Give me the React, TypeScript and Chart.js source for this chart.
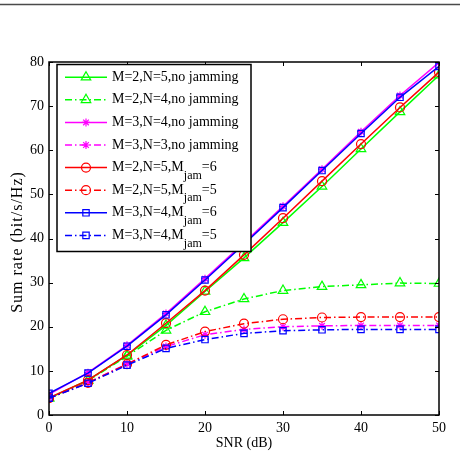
import React, { useEffect, useRef } from "react";
import { Chart, registerables } from "chart.js";

Chart.register(...registerables);

// SNR sweep (dB)
const snr = [0, 5, 10, 15, 20, 25, 30, 35, 40, 45, 50];

// Sum rate (bit/s/Hz) per configuration
const m2n5NoJam = [3.8, 7.9, 13.5, 20.3, 28.0, 35.6, 43.6, 51.8, 60.3, 68.7, 77.0];
const m2n4NoJam = [3.8, 7.8, 13.3, 19.2, 23.4, 26.3, 28.2, 29.1, 29.5, 29.9, 29.8];
const m3n4NoJam = [4.7, 9.6, 15.8, 23.0, 30.9, 39.0, 47.3, 55.7, 64.2, 72.4, 79.9];
const m3n3NoJam = [3.8, 7.3, 11.6, 15.5, 18.2, 19.4, 20.0, 20.2, 20.3, 20.3, 20.3];
const m2n5Jam6 = [3.9, 7.9, 13.6, 20.8, 28.2, 36.3, 44.6, 53.0, 61.4, 69.7, 77.7];
const m2n5Jam5 = [3.8, 7.3, 11.5, 15.9, 18.9, 20.7, 21.7, 22.1, 22.2, 22.2, 22.2];
const m3n4Jam6 = [4.9, 9.5, 15.6, 22.7, 30.6, 38.7, 47.0, 55.4, 63.8, 72.0, 79.0];
const m3n4Jam5 = [3.8, 7.2, 11.3, 15.1, 17.1, 18.5, 19.1, 19.3, 19.4, 19.4, 19.4];

const xTicks = [0, 10, 20, 30, 40, 50];
const yTicks = [0, 10, 20, 30, 40, 50, 60, 70, 80];

const xTitle = "SNR (dB)";
const yTitle = "Sum rate (bit/s/Hz)";

type LegendText = { text: string; sub?: string; tail?: string };

const legendTexts: LegendText[] = [
  { text: "M=2,N=5,no jamming" },
  { text: "M=2,N=4,no jamming" },
  { text: "M=3,N=4,no jamming" },
  { text: "M=3,N=3,no jamming" },
  { text: "M=2,N=5,M", sub: "jam", tail: "=6" },
  { text: "M=2,N=5,M", sub: "jam", tail: "=5" },
  { text: "M=3,N=4,M", sub: "jam", tail: "=6" },
  { text: "M=3,N=4,M", sub: "jam", tail: "=5" },
];

const GREEN = "#00ff00";
const MAGENTA = "#ff00ff";
const RED = "#ff0000";
const BLUE = "#0000ff";
const DASH_DOT = [7, 3, 1.5, 3];

type Marker = "triangle" | "star" | "circle" | "rect";

const series: { data: number[]; color: string; dash: number[]; marker: Marker; radius: number }[] = [
  { data: m2n5NoJam, color: GREEN, dash: [], marker: "triangle", radius: 5.5 },
  { data: m2n4NoJam, color: GREEN, dash: DASH_DOT, marker: "triangle", radius: 5.5 },
  { data: m3n4NoJam, color: MAGENTA, dash: [], marker: "star", radius: 4 },
  { data: m3n3NoJam, color: MAGENTA, dash: DASH_DOT, marker: "star", radius: 4 },
  { data: m2n5Jam6, color: RED, dash: [], marker: "circle", radius: 4.5 },
  { data: m2n5Jam5, color: RED, dash: DASH_DOT, marker: "circle", radius: 4.5 },
  { data: m3n4Jam6, color: BLUE, dash: [], marker: "rect", radius: 4.5 },
  { data: m3n4Jam5, color: BLUE, dash: DASH_DOT, marker: "rect", radius: 4.5 },
];

const SERIF = "'Liberation Serif', 'Times New Roman', serif";

function drawMarker(ctx: CanvasRenderingContext2D, style: Marker, x: number, y: number, r: number) {
  ctx.beginPath();
  if (style === "circle") {
    ctx.arc(x, y, r, 0, Math.PI * 2);
  } else if (style === "rect") {
    const s = r * Math.SQRT1_2;
    ctx.rect(x - s, y - s, 2 * s, 2 * s);
  } else if (style === "triangle") {
    let a = 0;
    ctx.moveTo(x + Math.sin(a) * r, y - Math.cos(a) * r);
    a += (2 * Math.PI) / 3;
    ctx.lineTo(x + Math.sin(a) * r, y - Math.cos(a) * r);
    a += (2 * Math.PI) / 3;
    ctx.lineTo(x + Math.sin(a) * r, y - Math.cos(a) * r);
    ctx.closePath();
  } else {
    for (let k = 0; k < 4; k++) {
      const a = (k * Math.PI) / 4;
      ctx.moveTo(x - Math.cos(a) * r, y - Math.sin(a) * r);
      ctx.lineTo(x + Math.cos(a) * r, y + Math.sin(a) * r);
    }
  }
  ctx.stroke();
}

const framePlugin = {
  id: "matlabFrame",
  afterDraw(chart: any) {
    const ctx: CanvasRenderingContext2D = chart.ctx;
    const { left, right, top, bottom } = chart.chartArea;
    const xs = chart.scales.x;
    const ys = chart.scales.y;
    ctx.save();

    // rule across the top of the page
    ctx.strokeStyle = "#4a4a4a";
    ctx.lineWidth = 1.5;
    ctx.beginPath();
    ctx.moveTo(0, 4.5);
    ctx.lineTo(chart.width, 4.5);
    ctx.stroke();

    // axes box
    ctx.strokeStyle = "#000";
    ctx.lineWidth = 1.5;
    ctx.strokeRect(left, top, right - left, bottom - top);

    // inward ticks on all four sides
    const len = 4;
    ctx.lineWidth = 1;
    ctx.beginPath();
    xTicks.forEach((v) => {
      const px = Math.round(xs.getPixelForValue(v)) + 0.5;
      ctx.moveTo(px, bottom);
      ctx.lineTo(px, bottom - len);
      ctx.moveTo(px, top);
      ctx.lineTo(px, top + len);
    });
    yTicks.forEach((v) => {
      const py = Math.round(ys.getPixelForValue(v)) + 0.5;
      ctx.moveTo(left, py);
      ctx.lineTo(left + len, py);
      ctx.moveTo(right, py);
      ctx.lineTo(right - len, py);
    });
    ctx.stroke();

    // y-axis title, rotated
    ctx.save();
    ctx.translate(18, (top + bottom) / 2 + 4);
    ctx.rotate(-Math.PI / 2);
    ctx.fillStyle = "#000";
    ctx.font = `16px ${SERIF}`;
    (ctx as any).letterSpacing = "1px";
    ctx.textAlign = "center";
    ctx.textBaseline = "middle";
    ctx.fillText(yTitle, 0.5, 0);
    ctx.restore();

    // legend box
    const bx = left + 8;
    const by = top + 2.5;
    const bw = 194;
    const bh = 187;
    ctx.fillStyle = "#fff";
    ctx.fillRect(bx, by, bw, bh);
    ctx.strokeStyle = "#000";
    ctx.lineWidth = 1.5;
    ctx.strokeRect(bx, by, bw, bh);

    const rowStart = by + 12.7;
    const rowStep = 22.6;
    const lineX0 = bx + 8;
    const lineX1 = bx + 50;
    const textX = bx + 55;
    legendTexts.forEach((lt, i) => {
      const s = series[i];
      const cy = rowStart + i * rowStep;
      ctx.strokeStyle = s.color;
      ctx.lineWidth = 1.5;
      ctx.setLineDash(s.dash);
      ctx.beginPath();
      ctx.moveTo(lineX0, cy);
      ctx.lineTo(lineX1, cy);
      ctx.stroke();
      ctx.setLineDash([]);
      ctx.lineWidth = 1.2;
      drawMarker(ctx, s.marker, (lineX0 + lineX1) / 2, cy, s.radius);

      ctx.fillStyle = "#000";
      ctx.textBaseline = "middle";
      ctx.textAlign = "left";
      ctx.font = `14px ${SERIF}`;
      ctx.fillText(lt.text, textX, cy);
      if (lt.sub) {
        let tx = textX + ctx.measureText(lt.text).width;
        ctx.font = `12px ${SERIF}`;
        ctx.fillText(lt.sub, tx, cy + 8);
        tx += ctx.measureText(lt.sub).width;
        ctx.font = `14px ${SERIF}`;
        ctx.fillText(lt.tail || "", tx, cy);
      }
    });

    ctx.restore();
  },
};

export default function App() {
  const canvasRef = useRef<HTMLCanvasElement | null>(null);

  useEffect(() => {
    if (!canvasRef.current) return;
    const chart = new Chart(canvasRef.current, {
      type: "line",
      data: {
        datasets: series.map((s, i) => ({
          label: legendTexts[i].text + (legendTexts[i].sub || "") + (legendTexts[i].tail || ""),
          data: snr.map((x, j) => ({ x, y: s.data[j] })),
          borderColor: s.color,
          borderWidth: 1.5,
          borderDash: s.dash,
          pointStyle: s.marker,
          pointRadius: s.radius,
          pointBorderWidth: 1.2,
          pointBorderColor: s.color,
          pointBackgroundColor: "rgba(0,0,0,0)",
          fill: false,
          tension: 0,
          order: series.length - i,
        })),
      },
      options: {
        animation: false,
        responsive: false,
        layout: { padding: { left: 0, top: 62, right: 21, bottom: 0 } },
        plugins: {
          legend: { display: false },
          tooltip: { enabled: false },
        },
        scales: {
          x: {
            type: "linear",
            min: 0,
            max: 50,
            afterFit: (scale: any) => {
              scale.height = 43;
            },
            afterBuildTicks: (scale: any) => {
              scale.ticks = xTicks.map((v) => ({ value: v }));
            },
            grid: { display: false, drawTicks: false },
            border: { display: false },
            ticks: {
              color: "#000",
              padding: 5,
              maxRotation: 0,
              font: { family: SERIF, size: 14 },
            },
            title: {
              display: true,
              text: xTitle,
              color: "#000",
              font: { family: SERIF, size: 14 },
              padding: { top: 0, bottom: 6.6 },
            },
          },
          y: {
            type: "linear",
            min: 0,
            max: 80,
            afterFit: (scale: any) => {
              scale.width = 49;
            },
            afterBuildTicks: (scale: any) => {
              scale.ticks = yTicks.map((v) => ({ value: v }));
            },
            grid: { display: false, drawTicks: false },
            border: { display: false },
            ticks: {
              color: "#000",
              padding: 5,
              font: { family: SERIF, size: 14 },
            },
            title: { display: false },
          },
        },
      },
      plugins: [framePlugin],
    });
    return () => chart.destroy();
  }, []);

  return (
    <div style={{ position: "fixed", left: 0, top: 0, width: 460, height: 458, background: "#fff" }}>
      <canvas ref={canvasRef} width={460} height={458} style={{ display: "block" }} />
    </div>
  );
}
